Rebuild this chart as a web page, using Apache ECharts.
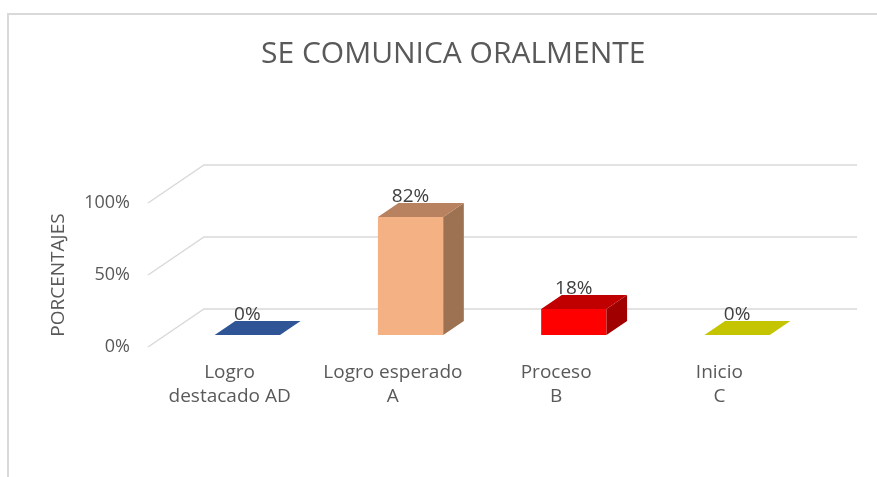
<!DOCTYPE html>
<html>
<head>
<meta charset="utf-8">
<script src="https://cdn.jsdelivr.net/npm/echarts@6/dist/echarts.min.js"></script>
<style>
  html, body { margin: 0; padding: 0; background: #fff; }
  #chart { width: 877px; height: 477px; }
</style>
</head>
<body>
<div id="chart"></div>
<script>
// data
const categories = ['Logro\ndestacado AD', 'Logro esperado\nA', 'Proceso\nB', 'Inicio\nC'];
const values = [0, 0.82, 0.18, 0];
const yTicks = [0, 0.5, 1];

// face colours per bar: front, top, side
const frontColors = ['#2f5597', '#f4b183', '#ff0000', '#c4c400'];
const topColors = ['#2f5597', '#b8815f', '#c00000', '#c4c400'];
const sideColors = ['#2f5597', '#9c7252', '#a00000', '#c4c400'];

// 3d projection of the back wall (pixels)
const DX = 56, DY = -38;
const F1 = 0.316, F2 = 0.684;
const textColor = '#595959';
const font = "'Open Sans', 'Noto Sans', sans-serif";

const chart = echarts.init(document.getElementById('chart'));

// wall grid lines: diagonal on the left side + horizontal on the back wall
const renderGrid = (params, api) => {
  const cs = params.coordSys;
  const y = api.coord([0, api.value(1)])[1];
  const x0 = cs.x, x1 = cs.x + cs.width;
  const style = { stroke: '#d9d9d9', lineWidth: 1.5, fill: null };
  return {
    type: 'polyline',
    shape: { points: [[x0, y], [x0 + DX, y + DY], [x1 + DX, y + DY]] },
    style
  };
};

const renderBar = (params, api) => {
  const idx = api.value(0);
  const v = api.value(1);
  const base = api.coord([idx, 0]);
  const top = api.coord([idx, v]);
  const bw = api.size([1, 0])[0] * 0.4;
  const fx = DX * F1, fy = DY * F1;
  const ddx = DX * (F2 - F1), ddy = DY * (F2 - F1);
  const L = base[0] + fx - bw / 2, R = base[0] + fx + bw / 2;
  const B = base[1] + fy, T = top[1] + fy;
  const children = [];
  if (B - T > 0.5) {
    children.push({ type: 'rect', shape: { x: L, y: T, width: bw, height: B - T }, style: { fill: frontColors[idx] } });
    children.push({ type: 'polygon', shape: { points: [[R, T], [R + ddx, T + ddy], [R + ddx, B + ddy], [R, B]] }, style: { fill: sideColors[idx] } });
  }
  children.push({ type: 'polygon', shape: { points: [[L, T], [R, T], [R + ddx, T + ddy], [L + ddx, T + ddy]] }, style: { fill: topColors[idx] } });
  children.push({
    type: 'text',
    style: {
      text: Math.round(v * 100) + '%',
      x: base[0] + fx, y: T - 20,
      align: 'center', verticalAlign: 'middle',
      fill: '#404040', font: '19px ' + font
    }
  });
  return { type: 'group', children };
};

chart.setOption({
  animation: false,
  title: {
    text: 'SE COMUNICA ORALMENTE',
    left: 256,
    top: 34,
    textStyle: { fontSize: 30, fontWeight: 'normal', color: textColor, fontFamily: font }
  },
  graphic: [{
    type: 'rect',
    shape: { x: 8, y: 14, width: 1000, height: 600 },
    style: { fill: 'none', stroke: '#d9d9d9', lineWidth: 2 }
  }],
  grid: { left: 148, right: 76, top: 203, bottom: 130 },
  xAxis: {
    type: 'category',
    data: categories,
    axisLine: { show: false },
    axisTick: { show: false },
    axisLabel: {
      interval: 0, hideOverlap: false,
      margin: 14, color: textColor, fontSize: 19, lineHeight: 24, fontFamily: font
    }
  },
  yAxis: {
    type: 'value',
    min: 0, max: 1, interval: 0.5,
    name: 'PORCENTAJES',
    nameLocation: 'middle',
    nameRotate: 90,
    nameGap: 80,
    nameTextStyle: { color: textColor, fontSize: 19, fontFamily: font },
    axisLine: { show: false },
    axisTick: { show: false },
    splitLine: { show: false },
    axisLabel: {
      margin: 18, color: textColor, fontSize: 18, fontFamily: font,
      formatter: v => Math.round(v * 100) + '%'
    }
  },
  series: [
    {
      type: 'custom',
      renderItem: renderGrid,
      data: yTicks.map(t => [0, t]),
      encode: { x: 0, y: 1 },
      silent: true,
      z: 1
    },
    {
      type: 'custom',
      renderItem: renderBar,
      data: values.map((v, i) => [i, v]),
      encode: { x: 0, y: 1 },
      z: 2
    }
  ]
});
</script>
</body>
</html>
